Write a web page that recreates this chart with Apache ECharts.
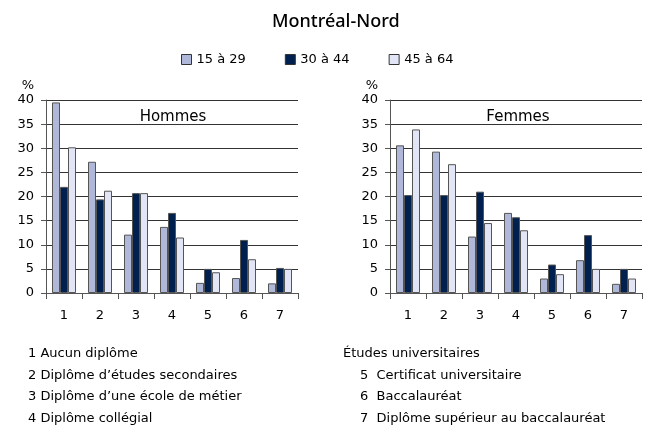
<!DOCTYPE html>
<html>
<head>
<meta charset="utf-8">
<script src="https://cdn.jsdelivr.net/npm/echarts@6/dist/echarts.min.js"></script>
<style>
  html, body { margin: 0; padding: 0; background: #fff; }
  #chart { width: 650px; height: 427px; }
</style>
</head>
<body>
<div id="chart"></div>
<script>
// Data
const categories = ['1', '2', '3', '4', '5', '6', '7'];
const ageGroups = ['15 à 29', '30 à 44', '45 à 64'];
const hommes15 = [39.5, 27.2, 12.1, 13.7, 2.1, 3.1, 2.0];
const hommes30 = [22.0, 19.4, 20.7, 16.6, 5.0, 11.0, 5.2];
const hommes45 = [30.2, 21.2, 20.7, 11.5, 4.3, 7.0, 5.0];
const femmes15 = [30.6, 29.3, 11.7, 16.6, 3.0, 6.8, 1.9];
const femmes30 = [20.3, 20.3, 21.0, 15.7, 5.9, 12.0, 5.0];
const femmes45 = [33.9, 26.7, 14.5, 13.0, 3.9, 5.0, 3.0];
const leftNotes = ['1 Aucun diplôme', '2 Diplôme d\u2019études secondaires', '3 Diplôme d\u2019une école de métier', '4 Diplôme collégial'];
const rightHeader = 'Études universitaires';
const rightNotes = ['5  Certificat universitaire', '6  Baccalauréat', '7  Diplôme supérieur au baccalauréat'];

const colours = ['#b0b8da', '#00204f', '#e1e5f5'];
const textFont = '"Noto Sans", sans-serif';
const axisFont = '"DejaVu Sans", sans-serif';

const chart = echarts.init(document.getElementById('chart'));

function makeYAxis(idx) {
    return {
        type: 'value', gridIndex: idx, min: 0, max: 40, interval: 5,
        name: '%', nameLocation: 'end', nameGap: 8,
        nameTextStyle: { color: '#000', fontSize: 13, fontFamily: axisFont, align: 'right', padding: [0, 12, 0, 0] },
        axisLine: { show: true, lineStyle: { color: '#555' } },
        axisTick: { show: true, length: 5, lineStyle: { color: '#555' } },
        axisLabel: { color: '#000', fontSize: 13, fontFamily: axisFont, margin: 12 },
        splitLine: { lineStyle: { color: '#333', width: 1 } }
    };
}
function makeXAxis(idx) {
    return {
        type: 'category', gridIndex: idx, data: categories,
        axisLine: { lineStyle: { color: '#555' } },
        axisTick: { show: true, length: 6, lineStyle: { color: '#555' } },
        axisLabel: { color: '#000', fontSize: 13, fontFamily: axisFont, margin: 16 }
    };
}
function makeSeries(name, data, colour, idx) {
    return {
        name, type: 'bar', data, xAxisIndex: idx, yAxisIndex: idx,
        barGap: '0%', barWidth: 8,
        itemStyle: { color: colour, borderColor: '#555', borderWidth: 1 },
        emphasis: { disabled: true }
    };
}

chart.setOption({
    animation: false,
    title: [
        { text: 'Montréal-Nord', left: 267, top: 8,
          textStyle: { fontSize: 18, fontWeight: 500, color: '#000', fontFamily: textFont } },
        { text: 'Hommes', left: 173, top: 110, textAlign: 'center', padding: 0,
          textStyle: { fontSize: 15, fontWeight: 'normal', color: '#000', fontFamily: axisFont } },
        { text: 'Femmes', left: 518, top: 110, textAlign: 'center', padding: 0,
          textStyle: { fontSize: 15, fontWeight: 'normal', color: '#000', fontFamily: axisFont } }
    ],
    legend: {
        data: ageGroups, left: 181, top: 53, padding: 0, icon: 'rect',
        itemWidth: 10, itemHeight: 10, itemGap: 39,
        itemStyle: { borderColor: '#333', borderWidth: 1 },
        textStyle: { fontSize: 13, color: '#000', fontFamily: axisFont, padding: [0, 0, 0, 0] }
    },
    grid: [
        { left: 46, top: 100, width: 252, height: 193 },
        { left: 390, top: 100, width: 252, height: 193 }
    ],
    xAxis: [makeXAxis(0), makeXAxis(1)],
    yAxis: [makeYAxis(0), makeYAxis(1)],
    series: [
        makeSeries(ageGroups[0], hommes15, colours[0], 0),
        makeSeries(ageGroups[1], hommes30, colours[1], 0),
        makeSeries(ageGroups[2], hommes45, colours[2], 0),
        makeSeries(ageGroups[0], femmes15, colours[0], 1),
        makeSeries(ageGroups[1], femmes30, colours[1], 1),
        makeSeries(ageGroups[2], femmes45, colours[2], 1)
    ],
    graphic: [
        ...leftNotes.map((t, i) => ({
            type: 'text', left: 28, top: 347 + i * 21.7,
            style: { text: t, fontSize: 13, fill: '#000', fontFamily: axisFont }
        })),
        { type: 'text', left: 343, top: 347,
          style: { text: rightHeader, fontSize: 13, fill: '#000', fontFamily: axisFont } },
        ...rightNotes.map((t, i) => ({
            type: 'text', left: 360, top: 368.7 + i * 21.7,
            style: { text: t, fontSize: 13, fill: '#000', fontFamily: axisFont }
        }))
    ]
});
</script>
</body>
</html>
